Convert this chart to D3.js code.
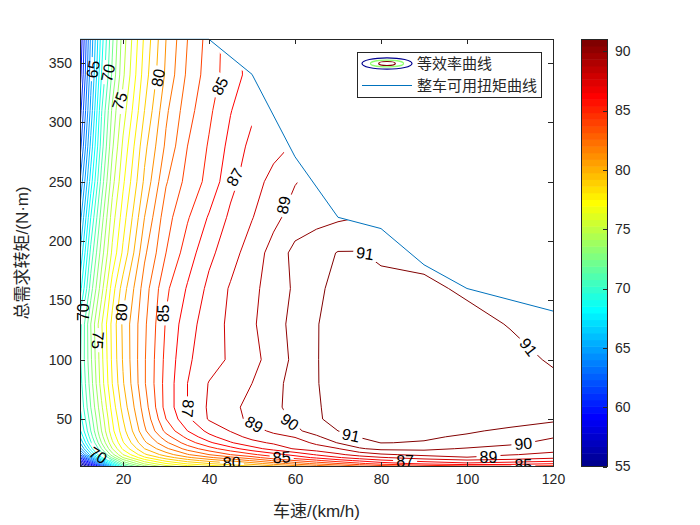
<!DOCTYPE html>
<html>
<head>
<meta charset="utf-8">
<script src="https://cdn.jsdelivr.net/npm/d3@7"></script>
<style>
html,body{margin:0;padding:0;background:#fff;}
svg{display:block;}
text{font-family:"Liberation Sans",Arial,"Noto Sans CJK SC",sans-serif;}
</style>
</head>
<body>
<svg id="chart" width="700" height="525"></svg>
<script>
// ---------------- data ----------------
const speeds = [10, 12.5, 15, 17.5, 20, 25, 30, 35, 40, 45, 50, 55, 60, 65, 70, 75, 80, 90, 100, 110, 120];
const torques = [10, 12.5, 15, 17.5, 20, 25, 30, 35, 40, 50, 60, 80, 100, 130, 160, 190, 220, 250, 280, 310, 340, 370];
// efficiency (%) rows, one per torque value (bottom to top), columns follow speeds
const eff = [
  [54, 57, 61, 66, 70, 73.5, 75.5, 76.5, 77.3, 78, 78.8, 79.6, 80.4, 81.2, 81.9, 82.7, 83.3, 84.1, 84.6, 84.8, 84.6],
  [56, 59.5, 64, 68.5, 72, 75.2, 77, 78.2, 79, 79.7, 80.5, 81.5, 82.4, 83.3, 84, 84.8, 85.5, 86.3, 86.8, 86.5, 86.1],
  [58, 62, 66.5, 70.5, 73.5, 76.5, 78.3, 79.5, 80.4, 81.2, 82.1, 83.1, 84, 84.8, 85.6, 86.2, 86.8, 87.4, 87.8, 87.6, 87.3],
  [60, 64.5, 68.8, 72.3, 75, 77.8, 79.5, 80.8, 81.8, 82.7, 83.6, 84.6, 85.5, 86.2, 86.9, 87.5, 87.9, 88.5, 88.95, 88.6, 88.2],
  [62, 66.5, 70.3, 73.6, 76, 78.8, 80.5, 81.9, 83, 84, 84.8, 85.6, 86.3, 87.1, 87.8, 88.4, 88.85, 89.25, 89.3, 89.05, 88.8],
  [64.5, 68.5, 72, 75, 77.2, 80, 81.8, 83.4, 84.6, 85.6, 86.6, 87.4, 88.1, 88.55, 88.95, 89.9, 90.25, 90.25, 89.9, 89.5, 89.3],
  [66, 69.8, 73, 75.8, 77.9, 80.8, 82.8, 84.5, 85.8, 86.9, 87.7, 88.15, 88.55, 89.2, 90.05, 90.6, 91.02, 90.95, 90.7, 90.3, 89.6],
  [67, 70.5, 73.6, 76.3, 78.3, 81.3, 83.6, 85.3, 86.7, 87.6, 88.3, 88.7, 89.05, 89.85, 90.6, 91.05, 91.15, 91.1, 90.9, 90.45, 90.1],
  [67.8, 71, 74, 76.7, 78.6, 81.8, 84.3, 86, 87.3, 88.05, 88.6, 89.2, 89.8, 90.4, 91, 91.2, 91.3, 91.25, 91.1, 90.85, 90.7],
  [68.5, 71.5, 74.4, 77, 79, 82.2, 85, 86.8, 88.1, 88.7, 89.2, 89.65, 90.15, 90.9, 91.25, 91.4, 91.45, 91.5, 91.45, 91.35, 91.1],
  [69, 72, 74.8, 77.4, 79.4, 82.5, 85.4, 87, 88.15, 88.75, 89.3, 89.8, 90.3, 90.9, 91.35, 91.55, 91.65, 91.7, 91.65, 91.5, 91.3],
  [69.5, 72.5, 75.5, 78, 79.9, 82.9, 85.4, 87, 88.05, 88.5, 89, 89.7, 90.35, 90.95, 91.4, 91.6, 91.7, 91.8, 91.7, 91.5, 91.2],
  [69.8, 72.8, 75.7, 78.2, 80.1, 82.9, 85.3, 86.85, 87.55, 88.15, 88.7, 89.4, 90.25, 90.95, 91.45, 91.6, 91.7, 91.7, 91.55, 91.3, 90.9],
  [69.6, 73, 75.9, 78.3, 80.2, 82.8, 85.1, 86.6, 87.5, 88.2, 88.85, 89.6, 90.3, 90.95, 91.4, 91.55, 91.6, 91.5, 91.3, 90.95, 90.6],
  [67.5, 71.5, 74.6, 77.5, 79.5, 82.5, 84.8, 86.1, 87.25, 88.1, 88.75, 89.45, 90.15, 90.8, 91.3, 91.4, 91.35, 91.2, 90.85, 90.6, 90.5],
  [66, 70.3, 73.5, 76.2, 78.2, 81.8, 84, 85.5, 86.75, 87.6, 88.5, 89.35, 90.3, 90.6, 91.05, 91.05, 90.8, 90.7, 90.7, 90.7, 90.7],
  [64.5, 69, 72.5, 75.5, 77.5, 81, 83.6, 84.9, 86.1, 87.2, 87.95, 88.75, 89.4, 89.7, 89.85, 90, 90.2, 90.4, 90.5, 90.5, 90.5],
  [63, 67.5, 71.4, 74.6, 76.8, 80.2, 82.9, 84.35, 85.3, 86.7, 87.6, 88.3, 88.95, 89.3, 89.6, 89.8, 90, 90.2, 90.2, 90.2, 90.2],
  [61.5, 66.3, 70.5, 73.8, 76.2, 79.7, 82.2, 84, 85.1, 86.3, 87.3, 87.7, 88.1, 88.5, 89, 89.3, 89.5, 89.7, 89.8, 90, 90],
  [60.5, 65.3, 69.9, 73.2, 75.5, 79, 81.8, 83.6, 84.8, 85.95, 86.8, 87.2, 87.7, 88.2, 88.7, 89, 89.3, 89.6, 89.8, 90, 90],
  [59.5, 64.6, 69, 72.2, 74.8, 78.5, 81.2, 83.2, 84.5, 85.5, 86.4, 87, 87.6, 88.2, 88.7, 89, 89.3, 89.6, 89.8, 90, 90],
  [59, 64.2, 68.5, 71.8, 74.5, 78.2, 81, 83, 84.4, 85.5, 86.5, 87, 87.5, 88, 88.5, 89, 89.3, 89.6, 89.8, 90, 90]
];
const levels = d3.range(55, 92, 1);
const colorMin = 55, colorMax = 91;
// usable torque envelope of the vehicle
const envSpeed  = [10, 40, 50, 60, 70, 80, 90, 100, 120];
const envTorque = [370, 370, 340.5, 271, 220, 210.5, 180, 160, 141];
// upper limit of the measured efficiency data (where contours stop)
const dataLimitSpeed  = [10, 40, 44, 48, 49.5, 50.5, 56, 58, 59.5, 60, 62, 66, 73.5, 80, 90, 93, 96, 100, 120];
const dataLimitTorque = [370, 370, 352, 343, 300, 292, 285, 271, 262, 253, 240, 226, 216, 207, 175, 172, 164, 157, 139];
// inline contour labels: text, speed, torque, angle
const labelText  = ["65","70","75","80","85","87","89","91","91","70","80","85","75","87","70","80","85","89","90","91","87","89","90","85"];
const labelSpeed = [13, 16.5, 19.2, 28.1, 42.5, 46.0, 57.3, 76.3, 114.3, 10.7, 19.6, 29.3, 14.2, 35.1, 14.2, 45.3, 56.9, 50.5, 58.8, 73, 85.6, 105, 113.1, 113.1];
const labelTorque= [344.7, 341.8, 318, 337.6, 330.6, 253.8, 230.3, 189.6, 110.8, 140, 140, 139, 116.5, 58.9, 19.5, 13.6, 18, 45.6, 47.6, 36.4, 14.1, 18, 29.4, 11];
const labelAngle = [-80, -78, -70, -80, -62, -60, -78, 8, 52, -90, -88, -90, 95, 95, 32, -2, -3, 30, 35, 12, 0, 0, -5, 0];
const xTicks = [20, 40, 60, 80, 100, 120];
const yTicks = [50, 100, 150, 200, 250, 300, 350];
const cbarTicks = [55, 60, 65, 70, 75, 80, 85, 90];
const legendNames = ["等效率曲线", "整车可用扭矩曲线"];
const xLabel = "车速/(km/h)";
const yLabel = "总需求转矩/(N·m)";

// ---------------- helpers ----------------
function jet(m) {
  const n = Math.ceil(m / 4);
  const u = [];
  for (let i = 1; i <= n; i++) u.push(i / n);
  for (let i = 1; i < n; i++) u.push(1);
  for (let i = n; i >= 1; i--) u.push(i / n);
  const g0 = Math.ceil(n / 2) - (m % 4 === 1 ? 1 : 0);
  const J = Array.from({length: m}, () => [0, 0, 0]);
  u.forEach((val, k) => {
    const g = g0 + k + 1, r = g + n, b = g - n;
    if (r >= 1 && r <= m) J[r - 1][0] = val;
    if (g >= 1 && g <= m) J[g - 1][1] = val;
    if (b >= 1 && b <= m) J[b - 1][2] = val;
  });
  return J.map(c => d3.rgb(c[0] * 255, c[1] * 255, c[2] * 255).formatHex());
}
const cmap = jet(64);
function levelColor(L) {
  let i = Math.floor((L - colorMin) / (colorMax - colorMin) * 64);
  i = Math.max(0, Math.min(63, i));
  return cmap[i];
}
function gridInterp(arr, g) {
  const f = g - 0.5;
  const i = Math.max(0, Math.min(arr.length - 2, Math.floor(f)));
  const t = f - i;
  return arr[i] + t * (arr[i + 1] - arr[i]);
}

// ---------------- layout ----------------
const svg = d3.select("#chart");
const ink = "#262626";
const x = d3.scaleLinear().domain([10, 120]).range([80, 553]);
const y = d3.scaleLinear().domain([10, 370]).range([466.5, 39.3]);

const defs = svg.append("defs");
// clip: area of valid data under the torque envelope
const clipPts = [[10, 10]].concat(dataLimitSpeed.map((s, i) => [s, dataLimitTorque[i]])).concat([[120, 10]]);
defs.append("clipPath").attr("id", "envClip")
  .append("polygon").attr("points", clipPts.map(p => x(p[0]) + "," + y(p[1])).join(" "));
defs.append("clipPath").attr("id", "labelClip")
  .append("rect").attr("x", 60).attr("y", y(370)).attr("width", x(120) - 60).attr("height", y(10) - y(370));

// contours
const nx = speeds.length, ny = torques.length;
const values = eff.flat();
const contours = d3.contours().size([nx, ny]).thresholds(levels)(values);

const labels = labelText.map((t, i) => ({t, level: +t, px: x(labelSpeed[i]), py: y(labelTorque[i]), a: labelAngle[i]}));

// masks to break lines under labels
const labelLevels = Array.from(new Set(labels.map(d => d.level)));
labelLevels.forEach(L => {
  const m = defs.append("mask").attr("id", "mask" + L).attr("maskUnits", "userSpaceOnUse")
    .attr("x", 0).attr("y", 0).attr("width", 700).attr("height", 525);
  m.append("rect").attr("x", 0).attr("y", 0).attr("width", 700).attr("height", 525).attr("fill", "#fff");
  labels.filter(d => d.level === L).forEach(d => {
    const w = d.t.length * 9 + 6, h = 15;
    m.append("rect").attr("x", -w / 2).attr("y", -h / 2).attr("width", w).attr("height", h)
      .attr("fill", "#000").attr("transform", `translate(${d.px},${d.py}) rotate(${d.a})`);
  });
});

const gC = svg.append("g").attr("clip-path", "url(#envClip)");
contours.forEach(c => {
  let dstr = "";
  c.coordinates.forEach(poly => poly.forEach(ring => {
    dstr += "M" + ring.map(p => x(gridInterp(speeds, p[0])).toFixed(2) + "," + y(gridInterp(torques, p[1])).toFixed(2)).join("L") + "Z";
  }));
  if (!dstr) return;
  const p = gC.append("path").attr("d", dstr).attr("fill", "none")
    .attr("stroke", levelColor(c.value)).attr("stroke-width", 1).attr("stroke-linejoin", "round");
  if (labelLevels.includes(c.value)) p.attr("mask", `url(#mask${c.value})`);
});

// envelope curve
svg.append("path")
  .datum(envSpeed.map((s, i) => [s, envTorque[i]]))
  .attr("d", d3.line().x(d => x(d[0])).y(d => y(d[1])))
  .attr("fill", "none").attr("stroke", "#0072BD").attr("stroke-width", 1);

// contour labels
svg.append("g").attr("clip-path", "url(#labelClip)")
  .selectAll("text").data(labels).join("text")
  .attr("transform", d => `translate(${d.px},${d.py}) rotate(${d.a})`)
  .attr("text-anchor", "middle").attr("dy", "0.36em")
  .attr("font-size", 16).attr("fill", "#000").text(d => d.t);

// axes
function styleAxis(g) {
  g.select(".domain").remove();
  g.selectAll(".tick line").attr("stroke", ink).attr("shape-rendering", "crispEdges");
  g.selectAll(".tick text").attr("fill", ink).attr("font-size", 14)
    .attr("font-family", '"Liberation Sans",Arial,sans-serif');
}
svg.append("g").attr("transform", `translate(0,${y(10)})`)
  .call(d3.axisBottom(x).tickValues(xTicks).tickSize(-5).tickPadding(8)).call(styleAxis);
svg.append("g").attr("transform", `translate(0,${y(370)})`)
  .call(d3.axisTop(x).tickValues(xTicks).tickSize(-5).tickFormat("")).call(styleAxis);
svg.append("g").attr("transform", `translate(${x(10)},0)`)
  .call(d3.axisLeft(y).tickValues(yTicks).tickSize(-5).tickPadding(8)).call(styleAxis);
svg.append("g").attr("transform", `translate(${x(120)},0)`)
  .call(d3.axisRight(y).tickValues(yTicks).tickSize(-5).tickFormat("")).call(styleAxis);
svg.append("rect").attr("x", x(10)).attr("y", y(370)).attr("width", x(120) - x(10)).attr("height", y(10) - y(370))
  .attr("fill", "none").attr("stroke", ink).attr("stroke-width", 1).attr("shape-rendering", "crispEdges");

// axis titles
svg.append("text").attr("x", (x(10) + x(120)) / 2).attr("y", 517).attr("text-anchor", "middle")
  .attr("font-size", 17).attr("fill", ink).text(xLabel);
svg.append("text").attr("transform", `translate(28,${(y(10) + y(370)) / 2}) rotate(-90)`)
  .attr("text-anchor", "middle").attr("font-size", 17).attr("fill", ink).text(yLabel);

// colorbar
const cb0 = 581, cb1 = 607;
const cy = d3.scaleLinear().domain([colorMin, colorMax]).range([y(10), y(370)]);
const step = (colorMax - colorMin) / 64;
svg.append("g").selectAll("rect").data(d3.range(64)).join("rect")
  .attr("x", cb0).attr("width", cb1 - cb0)
  .attr("y", i => cy(colorMin + (i + 1) * step))
  .attr("height", i => cy(colorMin + i * step) - cy(colorMin + (i + 1) * step) + 0.5)
  .attr("fill", i => cmap[i]);
svg.append("g").attr("transform", `translate(${cb1},0)`)
  .call(d3.axisRight(cy).tickValues(cbarTicks).tickSize(-4).tickPadding(8)).call(styleAxis);
svg.append("rect").attr("x", cb0).attr("y", cy(colorMax)).attr("width", cb1 - cb0).attr("height", cy(colorMin) - cy(colorMax))
  .attr("fill", "none").attr("stroke", ink).attr("stroke-width", 1).attr("shape-rendering", "crispEdges");

// legend
const lg = svg.append("g");
lg.append("rect").attr("x", 357).attr("y", 52).attr("width", 184).attr("height", 45)
  .attr("fill", "#fff").attr("stroke", ink).attr("stroke-width", 1).attr("shape-rendering", "crispEdges");
[[25, 5.7, cmap[0]], [16.5, 3.4, cmap[32]], [8.3, 2, cmap[63]]].forEach(e => {
  lg.append("ellipse").attr("cx", 387).attr("cy", 63.5).attr("rx", e[0]).attr("ry", e[1])
    .attr("fill", "none").attr("stroke", e[2]).attr("stroke-width", 1.2);
});
lg.append("line").attr("x1", 362).attr("x2", 412).attr("y1", 85.5).attr("y2", 85.5)
  .attr("stroke", "#0072BD").attr("stroke-width", 1);
lg.selectAll("text.lgt").data(legendNames).join("text").attr("class", "lgt")
  .attr("x", 417).attr("y", (d, i) => 64 + i * 22).attr("dy", "0.35em")
  .attr("font-size", 15).attr("fill", ink)
  .attr("font-family", '"Noto Sans CJK SC",sans-serif').text(d => d);
</script>
</body>
</html>
